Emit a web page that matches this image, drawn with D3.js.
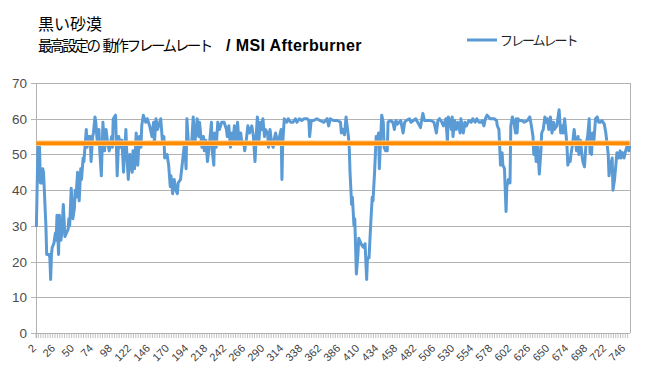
<!DOCTYPE html>
<html>
<head>
<meta charset="utf-8">
<script src="https://cdn.jsdelivr.net/npm/d3@7"></script>
<style>
  body { margin: 0; background: #fff; }
  text { font-family: "Liberation Sans", Arial, "Noto Sans CJK JP", sans-serif; }
</style>
</head>
<body>
<div id="chart"></div>
<script>
// Chart data
var titleLine1 = "黒い砂漠";
var titleLine2 = ["最高設定の", "動作フレームレート"];
var titleLine2b = "/ MSI Afterburner";
var legendLabel = "フレームレート";

var firstCategory = 2, lastCategory = 751;
var categories = d3.range(firstCategory, lastCategory + 1);
var labelStep = 24;
var yTicks = [0, 10, 20, 30, 40, 50, 60, 70];
var averageFps = [53.1];

// sample number -> fps
var frameX = [
  2, 4, 6, 7, 8, 9, 10, 11, 14, 15, 18, 19, 20, 21, 22, 24, 26, 27, 28, 30,
  31, 33, 34, 36, 38, 40, 42, 43, 44, 46, 48, 50, 51, 52, 54, 56, 58, 59, 61, 62,
  65, 66, 68, 70, 71, 73, 74, 76, 77, 79, 81, 82, 84, 86, 88, 90, 92, 94, 97, 98,
  99, 102, 104, 106, 108, 110, 112, 115, 116, 118, 120, 123, 124, 126, 128, 130, 132, 134, 135, 137,
  140, 142, 145, 148, 150, 151, 153, 155, 159, 161, 163, 164, 167, 169,
  171, 172, 174, 176, 178, 180, 181, 184, 186, 189, 191, 192, 194, 196, 198, 200, 202, 205, 207, 208,
  211, 213, 214, 216, 218, 221, 223, 224, 226, 227, 229, 231, 233, 236, 239, 242, 243, 245, 247, 249,
  250, 252, 254, 256, 258, 260, 261, 264, 265, 267, 269, 271, 274, 276, 278, 280, 281, 283, 285, 286,
  288, 290, 291, 294, 295, 297, 299, 301, 302, 304, 307, 309, 311, 312, 313, 315, 318, 320, 323, 326,
  329, 331, 334, 337, 340, 344, 346, 347, 349, 352, 356,
  360, 365, 369, 371, 373, 377, 382, 386, 387, 389, 391, 393, 396, 397, 398, 400, 401, 403, 404, 406,
  408, 409, 411, 413, 415, 417, 419, 420, 422, 424, 426, 427, 429, 431, 432, 434, 435, 436, 438, 440,
  441, 443, 445, 446, 449, 452, 454, 456, 458, 462, 465, 467, 469, 473, 475, 478, 481, 487, 488, 490,
  492, 495, 500, 504, 507, 509, 511, 514, 516, 519, 521, 522, 524, 526, 527, 528, 530, 532, 534, 537,
  538, 541, 543, 545, 548, 551, 553, 556, 558, 561,
  563, 565, 567, 569, 571, 575, 580, 583, 584, 586, 587, 588, 590, 591, 593, 595, 596, 598, 600, 601,
  603, 605, 607, 608, 609, 610, 612, 615, 618, 622, 625, 627, 629, 630, 632, 633, 635, 637, 639, 640,
  642, 644, 645, 647, 649, 651, 653, 655, 656, 659, 660, 662, 664, 666, 667, 669, 671, 672, 673, 675,
  676, 677, 679, 681, 682, 684, 686, 687, 689, 691, 692, 694, 696, 698, 700, 701, 703, 704, 706, 708,
  710, 712, 714, 716, 719, 721, 723, 724, 725, 727, 729, 730, 732, 734, 735, 737, 739, 740, 742, 744,
  746, 748, 750, 751
];
var frameRate = [
  30, 53, 52, 42, 46, 42, 46, 45, 30, 22, 22, 21, 15, 22, 24, 25, 28, 26, 33, 22,
  33, 26, 28, 36, 27, 28, 29, 32, 30, 40.5, 32, 35, 40, 38, 45, 37, 46, 43, 49, 48,
  57, 52, 55, 55, 48, 55, 56, 60.5, 59, 53, 57, 51, 44, 59, 51, 57, 53, 51, 55, 52,
  60, 61, 44, 55, 52, 54, 45, 57, 51, 43, 50, 45, 51, 46, 56, 47, 55, 52, 58, 61,
  59, 60, 58, 55, 59, 53, 60, 57, 60, 54, 55, 49, 50, 47,
  41, 44, 39, 43, 40, 39, 42, 43, 47, 53, 46, 60, 53, 53, 53, 60.5, 53, 60, 55, 59,
  52, 55, 51, 54, 48, 54, 59, 51, 47, 56, 52, 59, 57, 59, 59, 57, 55, 58, 52, 56,
  53, 58, 54, 59, 53, 56, 54, 53, 51, 54, 58, 56, 58, 55, 48, 57, 60.5, 54, 59, 57,
  60, 55, 57, 56, 52, 57, 53, 52, 54, 56, 53, 55, 57, 43, 53, 60, 59, 60, 59, 59,
  60, 59, 60, 59.5, 60, 60, 59.5, 55, 59.5, 59.5, 60,
  59.5, 59, 60, 58, 60, 59.5, 59.5, 59, 56, 57, 55.5, 60.5, 55, 52, 45, 36, 38, 30, 32, 16.5,
  22, 26.5, 25.5, 24.5, 24, 25, 15, 21, 21, 30, 38, 37, 45, 55, 53, 56, 46, 51, 61, 59,
  52, 51, 51, 59, 59.5, 59, 57, 59.5, 58.5, 59.5, 56, 59, 59.5, 60, 59, 59.5, 60, 57.5, 59, 61.5,
  59.5, 59.5, 59.5, 59, 56, 59.5, 60, 59, 58, 60, 53.5, 60.5, 59.5, 57, 60.5, 55, 59.5, 57, 59, 56,
  60, 56, 59, 58, 59.5, 59, 60, 59, 60, 59,
  59, 59.5, 58, 60, 61, 60, 60, 59.5, 58, 57, 52, 47, 50.5, 47, 46, 34, 41, 43, 42, 58,
  60.5, 59, 56, 60, 56, 60, 59.5, 59.5, 59, 59.5, 60.5, 58, 55, 50, 52, 48, 52, 44.5, 51, 56,
  57, 60.5, 59, 60, 57, 60.5, 56, 59, 57, 58, 59.5, 62.5, 56, 58, 56, 60, 55, 52, 47, 49,
  48, 50, 53, 57, 55, 51, 55, 50, 54, 49.5, 48, 46.5, 53, 55, 60, 50.5, 50, 56, 54, 60,
  60.5, 59, 59, 59.5, 58.5, 56, 52, 50, 44, 47, 49, 40, 43, 48, 50.5, 49, 51, 49, 50.5, 49,
  51, 52.5, 51, 52
];

var W = 645, H = 375;
var plot = {left: 36, right: 630, top: 83, bottom: 333};

var svg = d3.select("#chart").append("svg")
    .attr("width", W).attr("height", H);

var x = d3.scaleBand()
    .domain(categories)
    .range([plot.left, plot.right])
    .padding(0);
var cx = function(c) { return x(c) + x.bandwidth() / 2; };

var y = d3.scaleLinear()
    .domain([0, 70])
    .range([plot.bottom, plot.top]);

// gridlines (with small outside ticks)
svg.append("g").selectAll("line").data(yTicks).enter().append("line")
    .attr("x1", plot.left - 5).attr("x2", plot.right)
    .attr("y1", function(d) { return Math.round(y(d)) + 0.5; })
    .attr("y2", function(d) { return Math.round(y(d)) + 0.5; })
    .attr("stroke", "#b3b3b3").attr("stroke-width", 1);

// y labels
svg.append("g").selectAll("text").data(yTicks).enter().append("text")
    .attr("x", 27).attr("y", function(d) { return y(d) + 5; })
    .attr("text-anchor", "end")
    .attr("font-size", 13.5).attr("fill", "#4d4d4d")
    .text(function(d) { return d; });

// axis lines and right border
svg.append("line")
    .attr("x1", plot.left + 0.5).attr("x2", plot.left + 0.5)
    .attr("y1", plot.top).attr("y2", plot.bottom + 5)
    .attr("stroke", "#b3b3b3");
svg.append("line")
    .attr("x1", plot.right + 0.5).attr("x2", plot.right + 0.5)
    .attr("y1", plot.top).attr("y2", plot.bottom)
    .attr("stroke", "#b3b3b3");

// category tick marks
var tickCats = categories.filter(function(d, i) { return i % 3 === 0; });
svg.append("g").selectAll("line").data(tickCats).enter().append("line")
    .attr("x1", function(d) { return x(d); }).attr("x2", function(d) { return x(d); })
    .attr("y1", plot.bottom).attr("y2", plot.bottom + 5)
    .attr("stroke", "#b3b3b3").attr("stroke-width", 0.8);

// category labels
var labelCats = categories.filter(function(d, i) { return i % labelStep === 0; });
svg.append("g").selectAll("text").data(labelCats).enter().append("text")
    .attr("transform", function(d) { return "translate(" + (cx(d) + 0.5) + "," + (plot.bottom + 16) + ") rotate(-45)"; })
    .attr("text-anchor", "end")
    .attr("font-size", 11).attr("fill", "#404040")
    .text(function(d) { return d; });

// frame rate line
var points = frameX.map(function(d, i) { return {c: d, v: frameRate[i]}; });
var line = d3.line()
    .x(function(d) { return cx(d.c); })
    .y(function(d) { return y(d.v); });

svg.append("path").datum(points)
    .attr("d", line)
    .attr("fill", "none")
    .attr("stroke", "#5b9bd5").attr("stroke-width", 3)
    .attr("stroke-linejoin", "round").attr("stroke-linecap", "round");

// average line on top
var avgPts = [{c: firstCategory, v: averageFps[0]}, {c: lastCategory, v: averageFps[0]}];
svg.append("path").datum(avgPts)
    .attr("d", d3.line().x(function(d) { return cx(d.c); }).y(function(d) { return y(d.v); }))
    .attr("stroke", "#ffc985").attr("stroke-width", 5.5).attr("fill", "none");
svg.append("path").datum(avgPts)
    .attr("d", d3.line().x(function(d) { return cx(d.c); }).y(function(d) { return y(d.v); }))
    .attr("stroke", "#ff8c00").attr("stroke-width", 3.5).attr("fill", "none");

// title
svg.append("text")
    .attr("x", 38).attr("y", 30)
    .attr("font-size", 16).attr("fill", "#000")
    .text(titleLine1);
var t2 = svg.append("text")
    .attr("x", 38).attr("y", 51)
    .attr("fill", "#000");
t2.append("tspan").attr("font-size", 14.5).attr("letter-spacing", -2.4).text(titleLine2[0]);
t2.append("tspan").attr("dx", 4).attr("font-size", 14.5).attr("letter-spacing", -2.4).text(titleLine2[1]);
t2.append("tspan").attr("dx", 15).attr("font-size", 16).attr("letter-spacing", 0.4)
    .attr("font-weight", "bold").text(titleLine2b);

// legend
svg.append("line")
    .attr("x1", 467).attr("x2", 497).attr("y1", 40).attr("y2", 40)
    .attr("stroke", "#5b9bd5").attr("stroke-width", 3);
svg.append("text")
    .attr("x", 500).attr("y", 45)
    .attr("font-size", 13).attr("letter-spacing", -2).attr("fill", "#222")
    .text(legendLabel);
</script>
</body>
</html>
